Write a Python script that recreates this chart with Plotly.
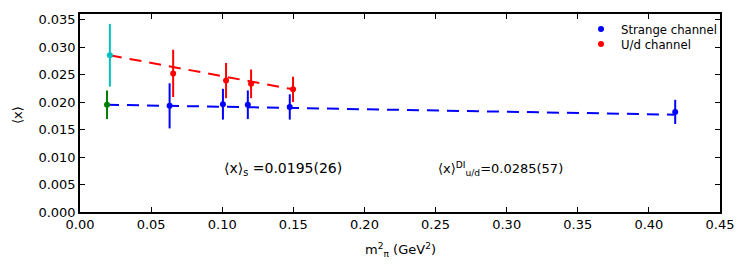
import plotly.graph_objects as go

# Strange channel (blue)
s_x = [0.063, 0.1005, 0.118, 0.1475, 0.4185]
s_y = [0.0193, 0.0196, 0.0195, 0.0191, 0.0182]
s_err = [0.0041, 0.0028, 0.0026, 0.0023, 0.0022]

# U/d channel (red)
ud_x = [0.0655, 0.1027, 0.1203, 0.1498]
ud_y = [0.0252, 0.0239, 0.0233, 0.0223]
ud_err = [0.0043, 0.0032, 0.0026, 0.0023]

# Extrapolated values
ext_s_x = [0.019]
ext_s_y = [0.0195]
ext_s_err = [0.0026]
ext_ud_x = [0.021]
ext_ud_y = [0.0285]
ext_ud_err = [0.0057]

# Fit lines (endpoints)
fit_s_x = [0.019, 0.418]
fit_s_y = [0.0195, 0.0177]
fit_ud_x = [0.021, 0.15]
fit_ud_y = [0.0285, 0.0223]

x_ticks = [0.0, 0.05, 0.10, 0.15, 0.20, 0.25, 0.30, 0.35, 0.40, 0.45]
y_ticks = [0.0, 0.005, 0.010, 0.015, 0.020, 0.025, 0.030, 0.035]

BLUE = "#0000ff"
RED = "#ff0000"
GREEN = "#008000"
CYAN = "#00bfbf"
FONT = "DejaVu Sans"

fig = go.Figure()

fig.add_trace(go.Scatter(x=fit_s_x, y=fit_s_y, mode="lines",
                         line=dict(color=BLUE, width=2, dash="12px,8px"),
                         showlegend=False, hoverinfo="skip"))
fig.add_trace(go.Scatter(x=fit_ud_x, y=fit_ud_y, mode="lines",
                         line=dict(color=RED, width=2, dash="12px,8px"),
                         showlegend=False, hoverinfo="skip"))

def pts(x, y, e, color, name, show, legend="legend"):
    return go.Scatter(x=x, y=y, mode="markers", name=name, showlegend=show,
                      legend=legend,
                      marker=dict(color=color, size=6),
                      error_y=dict(type="data", array=e, color=color,
                                   thickness=2, width=0))

fig.add_trace(pts(s_x, s_y, s_err, BLUE, "Strange channel", True, "legend"))
fig.add_trace(pts(ud_x, ud_y, ud_err, RED, "U/d channel", True, "legend2"))
fig.add_trace(pts(ext_s_x, ext_s_y, ext_s_err, GREEN, "s extrap", False))
fig.add_trace(pts(ext_ud_x, ext_ud_y, ext_ud_err, CYAN, "ud extrap", False))

fig.add_annotation(x=0.1, y=0.0079, xref="x", yref="y", xanchor="left",
                   yanchor="middle", showarrow=False,
                   text="⟨x⟩<sub>s</sub> =0.0195(26)",
                   font=dict(family=FONT, size=14, color="black"))
fig.add_annotation(x=0.2505, y=0.0079, xref="x", yref="y", xanchor="left",
                   yanchor="middle", showarrow=False,
                   text="⟨x⟩<sup>DI</sup><sub>u/d</sub>=0.0285(57)",
                   font=dict(family=FONT, size=13, color="black"))

# axis titles (pixel positions converted below)
fig.add_annotation(x=400, y=250, xref="paper", yref="paper", showarrow=False,
                   xanchor="center", yanchor="middle",
                   text="m<sup>2</sup><sub>π</sub> (GeV<sup>2</sup>)",
                   font=dict(family=FONT, size=13, color="black"))
fig.add_annotation(x=18, y=115, xref="paper", yref="paper", showarrow=False,
                   xanchor="center", yanchor="middle",
                   text="⟨x⟩", textangle=-90,
                   font=dict(family=FONT, size=13, color="black"))

axis_common = dict(showline=True, linecolor="black", linewidth=1.5,
                   mirror="allticks", ticks="inside", ticklen=5,
                   tickcolor="black", tickwidth=1, showgrid=False,
                   zeroline=False, automargin=False,
                   tickfont=dict(family=FONT, size=13, color="black"))

fig.update_xaxes(range=[0, 0.45], tickvals=x_ticks,
                 ticktext=[f"{v:.2f}" for v in x_ticks], **axis_common)
fig.update_yaxes(range=[0, 0.036], tickvals=y_ticks,
                 ticktext=[f"{v:.3f}" for v in y_ticks], **axis_common)

L, R, T, B = 80, 28, 14, 63
W, H = 748, 275
pw, ph = W - L - R, H - T - B

for a in fig.layout.annotations:
    if a.xref == "paper":
        a.x = (a.x - L) / pw
        a.y = 1 - (a.y - T) / ph

def lg(ypix):
    return dict(x=(581 - L) / pw, y=1 - (ypix - T) / ph, xanchor="left",
                yanchor="middle", bgcolor="rgba(0,0,0,0)",
                font=dict(family=FONT, size=11.7, color="black"),
                itemwidth=30, borderwidth=0)

fig.update_layout(
    width=W, height=H,
    margin=dict(l=L, r=R, t=T, b=B, autoexpand=False),
    paper_bgcolor="white", plot_bgcolor="white",
    font=dict(family=FONT, size=13, color="black"),
    legend=lg(29), legend2=lg(44),
)

fig.write_html("out.html", config={"displayModeBar": False},
               post_script="document.body.style.margin='0';document.body.style.overflow='hidden';")
